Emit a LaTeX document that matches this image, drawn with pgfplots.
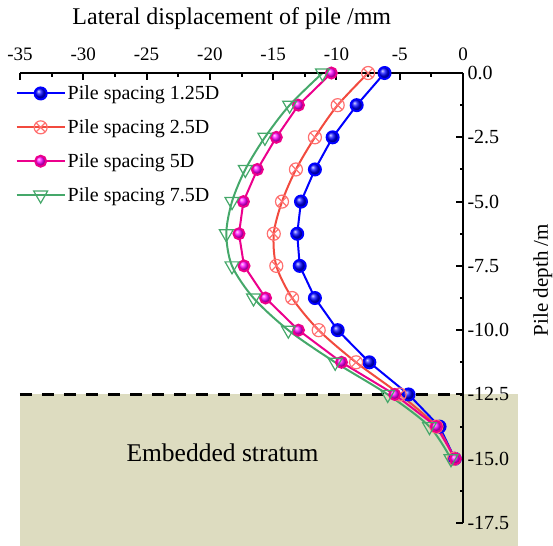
\documentclass[border=0pt]{standalone}
\usepackage{fontspec}
\setmainfont{Liberation Serif}
\usepackage{pgfplots}
\pgfplotsset{compat=1.18}
\usetikzlibrary{plotmarks}

\definecolor{stratum}{HTML}{DDDCC0}
\definecolor{sredline}{HTML}{F24A3E}
\definecolor{sredmark}{HTML}{FF7070}
\definecolor{sgreen}{HTML}{45A86A}

% Pile depth (m) against lateral displacement (mm)
\pgfplotstableread{
depth  d125   d25    d5     d75
0      -6.2   -7.5   -10.4  -11.1
-1.25  -8.4   -9.9   -13.0  -13.7
-2.5   -10.3  -11.7  -14.75 -15.65
-3.75  -11.7  -13.2  -16.25 -17.2
-5     -12.8  -14.3  -17.35 -18.25
-6.25  -13.1  -14.95 -17.7  -18.7
-7.5   -12.9  -14.75 -17.3  -18.25
-8.75  -11.7  -13.5  -15.6  -16.55
-10    -9.9   -11.4  -13.0  -13.8
-11.25 -7.4   -8.45  -9.6   -10.1
-12.5  -4.3   -5.0   -5.4   -5.95
-13.75 -1.85  -2.1   -2.1   -2.65
-15    -0.65  -0.7   -0.6   -0.95
}\piledata

\begin{document}
\begin{tikzpicture}
\begin{axis}[
  scale only axis, width=443pt, height=450pt,
  xmin=-35, xmax=0, ymin=-17.5, ymax=0,
  axis x line*=top, axis y line*=right,
  xtick pos=right, ytick pos=right,
  xticklabel pos=right, yticklabel pos=right,
  axis line style={-, line width=2.2pt, black},
  clip=false, axis on top,
  xtick={-35,-30,...,0}, minor x tick num=1,
  ytick={0,-2.5,...,-17.5}, minor y tick num=1,
  tick align=inside,
  major tick length=7pt, minor tick length=3.5pt,
  every tick/.style={line width=2pt, black},
  /pgf/number format/assume math mode=true,
  xticklabel shift=8.5pt, yticklabel shift=1pt,
  x tick label style={font=\fontsize{19}{19}\selectfont,
    /pgf/number format/.cd, fixed, precision=0},
  y tick label style={font=\fontsize{20}{20}\selectfont,
    /pgf/number format/.cd, fixed, fixed zerofill, precision=1},
  xlabel={Lateral displacement of pile /mm},
  xlabel style={font=\fontsize{24}{24}\selectfont,
    at={(axis description cs:0.478,1.122)}, anchor=center},
  ylabel={Pile depth /m},
  ylabel style={font=\fontsize{21}{21}\selectfont,
    at={(axis description cs:1.18,0.54)}, anchor=center, rotate=0},
  legend style={at={(axis description cs:-0.017,0.981)}, anchor=north west,
    draw=none, fill=none, font=\fontsize{20}{20}\selectfont,
    row sep=14.5pt, cells={anchor=west}},
  legend cell align=left,
  legend image code/.code={%
    \draw[mark repeat=2,mark phase=2] plot coordinates {(0pt,0pt) (24pt,0pt) (48pt,0pt)};},
]
% embedded stratum below the pile toe level
\fill[stratum] (axis cs:-35,-12.5) rectangle (axis cs:4.34,-18.39);
\draw[black, line width=2.4pt, dash pattern=on 12pt off 10pt]
  (axis cs:-35,-12.5) -- (axis cs:0,-12.5);
\node[font=\fontsize{25.5}{25.5}\selectfont] at (axis cs:-19.0,-14.78) {Embedded stratum};

\addplot[blue, line width=2pt, mark=ball, mark size=6pt,
  mark options={ball color=blue}]
  table[x=d125, y=depth] {\piledata};
\addlegendentry{Pile spacing 1.25D}

\addplot[sredline, line width=2pt, smooth, mark=otimes, mark size=6.5pt,
  mark options={draw=sredmark, line width=1.2pt, fill=none}]
  table[x=d25, y=depth] {\piledata};
\addlegendentry{Pile spacing 2.5D}

\addplot[magenta, line width=2pt, mark=ball, mark size=5.5pt,
  mark options={ball color=magenta}]
  table[x=d5, y=depth] {\piledata};
\addlegendentry{Pile spacing 5D}

\addplot[sgreen, line width=2pt, smooth, mark=triangle, mark size=8pt,
  mark options={draw=sgreen, fill=white, line width=1.2pt, rotate=180}]
  table[x=d75, y=depth] {\piledata};
\addlegendentry{Pile spacing 7.5D}

\coordinate (bbSW) at (axis cs:-36.58,-18.39);
\coordinate (bbNE) at (axis cs:7.11,2.84);
\end{axis}
\pgfresetboundingbox
\useasboundingbox (bbSW) rectangle (bbNE);
\end{tikzpicture}
\end{document}
